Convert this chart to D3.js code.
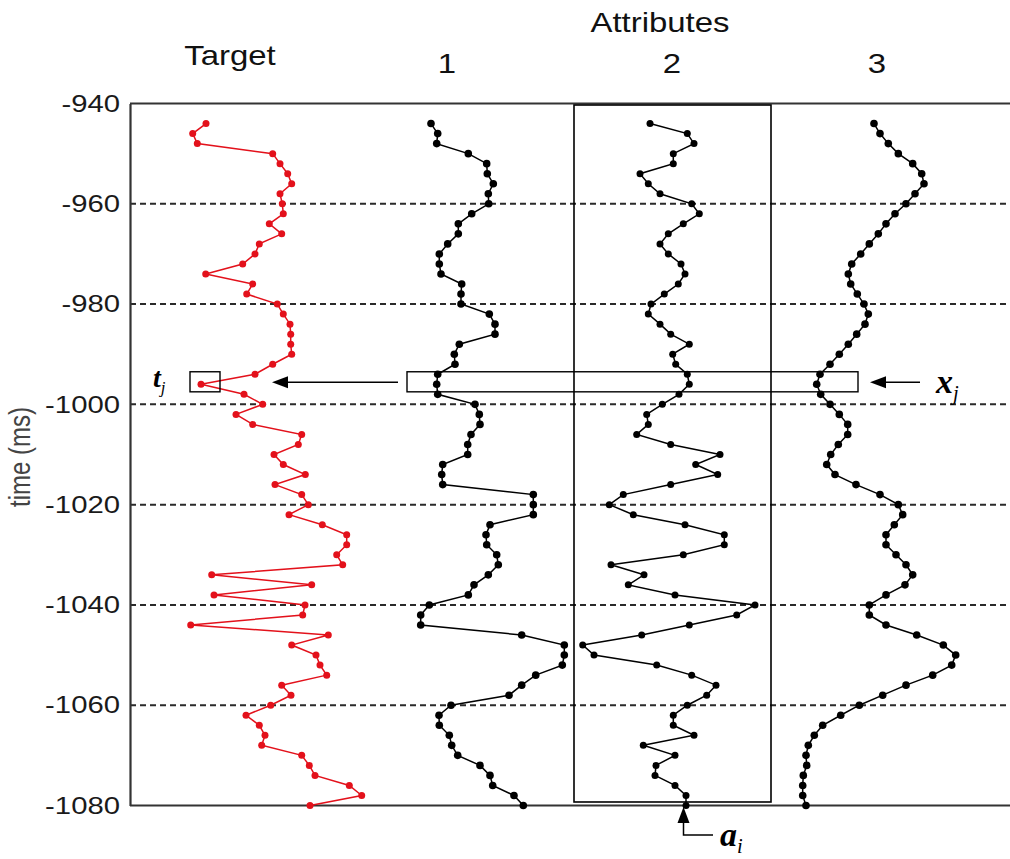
<!DOCTYPE html>
<html>
<head>
<meta charset="utf-8">
<script src="https://cdn.jsdelivr.net/npm/d3@7"></script>
<style>
  html, body { margin: 0; padding: 0; background: #fff; }
  svg { display: block; }
</style>
</head>
<body>
<svg id="chart" width="1010" height="859"></svg>
<script>
// Sample times (ms), every 2 ms from -944 to -1080
const times = d3.range(-944, -1081, -2);

// Trace amplitudes, expressed on a shared horizontal amplitude axis
const targetTrace = [
  76, 62.7, 67.3, 142.7, 150, 157.7, 161.7, 150, 152.3, 153.3,
  139.3, 151.7, 129.3, 125, 112.7, 75.7, 122.7, 116.7, 147.3, 153.3,
  160, 160.7, 160.7, 161.7, 142.7, 125, 71, 114, 132.7, 106,
  122.7, 171.7, 168.3, 144, 153.3, 175.3, 145, 171.7, 178.3, 159,
  192.3, 216.7, 216.7, 206.7, 212.7, 81.7, 181.7, 84, 175, 172.7,
  60.7, 198.3, 161.7, 186, 190, 196.7, 151.7, 161, 140.7, 116,
  129.3, 135, 131.7, 171.7, 179.3, 185, 219.3, 231.7, 180
];
const attribute1 = [
  301, 307.7, 306.7, 338.3, 356.7, 357.3, 363.3, 358.3, 358.7, 341.7,
  328.3, 328.3, 317.7, 309.3, 309.3, 311, 331.7, 331, 331, 359.3,
  365, 365, 329.3, 324.3, 325, 307.7, 306.7, 307.7, 345, 349.3,
  350, 341, 337.7, 337.7, 312.7, 311.7, 312.7, 403.3, 403.3, 403.3,
  360, 356, 356.7, 366.7, 368.3, 358.3, 344, 338.3, 299.3, 290.7,
  290.7, 391.7, 434.3, 434.3, 432.3, 405.7, 391.7, 379, 321, 309,
  309.3, 319.3, 321.7, 327.7, 350, 360, 362.7, 384, 393.3
];
const attribute2 = [
  520, 557.3, 564, 543.3, 543.3, 510, 518.3, 530, 561.7, 569.3,
  553.3, 538.3, 530, 538.3, 551, 555, 548.3, 534.3, 521, 518.3,
  530, 540.7, 559.3, 542.7, 545.7, 557.3, 559.3, 549, 532.3, 516.7,
  518.3, 506.7, 540.7, 590, 565.7, 587.7, 540.7, 493.3, 479.3, 503.3,
  555, 594.3, 594.3, 553.3, 481, 514, 498.3, 545, 625, 606.7,
  559.3, 511.7, 452.7, 464, 526.7, 561.7, 586, 576.7, 557.3, 543.3,
  543.3, 564, 513.3, 545, 526, 525, 545, 556, 556
];
const attribute3 = [
  744, 750, 758.3, 768.3, 782.7, 791.7, 794, 785, 776, 765,
  756, 748.3, 739.3, 730.7, 721.7, 718.3, 720.7, 727.3, 734, 738.3,
  735, 726.7, 718.3, 709.3, 700, 690, 686.7, 690.7, 700, 709.3,
  717.7, 717.7, 708.3, 700.7, 696.7, 705, 726, 750, 768.3, 772.7,
  764.3, 756, 756, 766, 776, 782.7, 775, 756, 739.3, 739.3,
  756, 786.7, 813.3, 825.7, 821.7, 802.7, 776, 752.7, 729.3, 710.7,
  692.7, 684.3, 678.3, 676, 676.7, 673.3, 672.7, 672.7, 676
];

// Axis ticks and column headings
const timeTicks = [-940, -960, -980, -1000, -1020, -1040, -1060, -1080];
const gridTicks = [-960, -980, -1000, -1020, -1040, -1060];
const headings = [
  { text: "Target", amp: 100, line: 0 },
  { text: "1", amp: 317, line: 1 },
  { text: "2", amp: 542, line: 1 },
  { text: "3", amp: 747, line: 1 }
];

const svg = d3.select("#chart");
const W = 1010, H = 859;

const y = d3.scaleLinear().domain([-940, -1080]).range([103.5, 805.5]);
const x = d3.scaleLinear().domain([0, 880]).range([130, 1010]);

const sans = "'Liberation Sans', Arial, sans-serif";
const serif = "'Liberation Serif', 'Times New Roman', serif";
const stretch = 1.22; // wide lettering of the labels

// Dashed horizontal grid
svg.append("g")
  .selectAll("line")
  .data(gridTicks)
  .join("line")
  .attr("x1", x(0)).attr("x2", W + 5)
  .attr("y1", d => y(d)).attr("y2", d => y(d))
  .attr("stroke", "#2a2a2a")
  .attr("stroke-width", 2)
  .attr("stroke-dasharray", "6,4");

// Frame: top and bottom edges
const frame = svg.append("g").attr("stroke", "#333").attr("stroke-width", 2.2).attr("fill", "none");
frame.append("line").attr("x1", x(0)).attr("x2", W + 5).attr("y1", y(-940)).attr("y2", y(-940));
frame.append("line").attr("x1", x(0)).attr("x2", W + 5).attr("y1", y(-1080)).attr("y2", y(-1080));

// Y axis
const yAxis = d3.axisLeft(y).tickValues(timeTicks).tickSize(0).tickPadding(0).tickFormat(d => String(d));
const gy = svg.append("g").attr("transform", `translate(${x(0)},0)`).call(yAxis);
gy.select(".domain").attr("stroke", "#333").attr("stroke-width", 2.2);
gy.selectAll(".tick text")
  .attr("x", 0)
  .attr("transform", `translate(-10,0) scale(${stretch},1)`)
  .attr("font-family", sans)
  .attr("font-size", 24)
  .attr("fill", "#1a1a1a");

svg.append("text")
  .attr("transform", `translate(30,${y(-1010.5)}) rotate(-90) scale(1,${stretch})`)
  .attr("text-anchor", "middle")
  .attr("font-family", sans)
  .attr("font-size", 24)
  .attr("fill", "#444")
  .text("time (ms)");

// Headings
function heading(xp, yp, txt) {
  svg.append("text")
    .attr("transform", `translate(${xp},${yp}) scale(${stretch},1)`)
    .attr("text-anchor", "middle")
    .attr("font-family", sans).attr("font-size", 27)
    .attr("fill", "#111")
    .text(txt);
}
heading(x(530), 32, "Attributes");
headings.forEach(d => heading(x(d.amp), d.line === 0 ? 65 : 73, d.text));

// Highlight box around attribute 2
svg.append("rect")
  .attr("x", x(444)).attr("y", y(-940.3))
  .attr("width", x(641) - x(444))
  .attr("height", y(-1079.3) - y(-940.3))
  .attr("fill", "none").attr("stroke", "#000").attr("stroke-width", 1.6);

// Traces
const line = d3.line().x(d => x(d.v)).y(d => y(d.t));
const traces = [
  { vals: targetTrace, color: "#e3111b", r: 3.5 },
  { vals: attribute1, color: "#000", r: 3.8 },
  { vals: attribute2, color: "#000", r: 3.5 },
  { vals: attribute3, color: "#000", r: 3.8 }
];
traces.forEach(tr => {
  const pts = times.map((t, i) => ({ t, v: tr.vals[i] }));
  const g = svg.append("g");
  g.append("path")
    .attr("d", line(pts))
    .attr("fill", "none")
    .attr("stroke", tr.color)
    .attr("stroke-width", 1.5);
  g.selectAll("circle")
    .data(pts)
    .join("circle")
    .attr("cx", d => x(d.v)).attr("cy", d => y(d.t))
    .attr("r", tr.r)
    .attr("fill", tr.color);
});

// Sample window boxes at t_j
const winTop = -993.5, winBot = -997.5, winMid = -995.6;
svg.append("rect")
  .attr("x", x(60)).attr("y", y(winTop))
  .attr("width", x(90) - x(60)).attr("height", y(winBot) - y(winTop))
  .attr("fill", "none").attr("stroke", "#000").attr("stroke-width", 1.4);
svg.append("rect")
  .attr("x", x(277)).attr("y", y(winTop))
  .attr("width", x(728) - x(277)).attr("height", y(winBot) - y(winTop))
  .attr("fill", "none").attr("stroke", "#000").attr("stroke-width", 1.4);

// Arrows
function arrowLeft(x0, x1, yy) {
  svg.append("line").attr("x1", x0).attr("x2", x1 + 12).attr("y1", yy).attr("y2", yy)
    .attr("stroke", "#000").attr("stroke-width", 1.5);
  svg.append("path")
    .attr("d", `M${x1},${yy} L${x1 + 16},${yy - 6} L${x1 + 16},${yy + 6} Z`)
    .attr("fill", "#000");
}
arrowLeft(x(268), x(142), y(winMid));
arrowLeft(x(790), x(740), y(winMid));

// a_i pointer below attribute 2
const axX = x(553.5), tipY = y(-1080) + 1.5, elbowY = 835;
svg.append("path")
  .attr("d", `M${axX},${tipY + 12} L${axX},${elbowY} L${x(583)},${elbowY}`)
  .attr("fill", "none").attr("stroke", "#000").attr("stroke-width", 1.5);
svg.append("path")
  .attr("d", `M${axX},${tipY} L${axX - 6},${tipY + 16} L${axX + 6},${tipY + 16} Z`)
  .attr("fill", "#000");

// Symbol labels
function symbol(xp, yp, main, sub, size) {
  const t = svg.append("text")
    .attr("x", xp).attr("y", yp)
    .attr("font-family", serif)
    .attr("font-style", "italic")
    .attr("font-weight", "bold")
    .attr("font-size", size);
  t.append("tspan").text(main);
  t.append("tspan").attr("dy", size * 0.22).attr("font-size", size * 0.6).attr("font-weight", "normal").text(sub);
}
symbol(153, 387, "t", "j", 28);
symbol(936, 393, "x", "j", 34);
symbol(720, 846, "a", "i", 34);
</script>
</body>
</html>
